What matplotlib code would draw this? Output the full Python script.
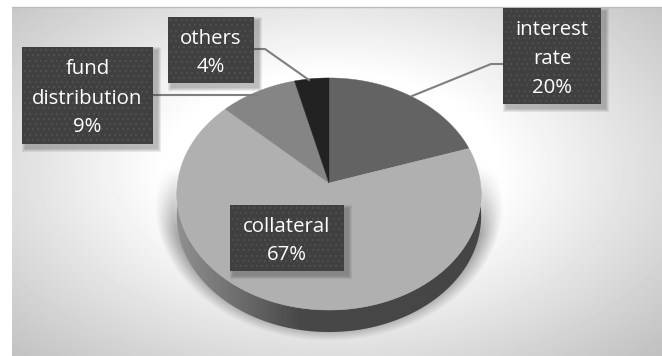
import numpy as np
import matplotlib
matplotlib.use('Agg')
import matplotlib.pyplot as plt
from matplotlib.patches import Polygon, Rectangle

categories = ['interest\nrate', 'collateral', 'fund\ndistribution', 'others']
shares = [20, 67, 9, 4]
slice_colors = ['#636363', '#b0b0b0', '#858585', '#222222']

# label boxes: left, top, right, bottom in pixels
label_boxes = [(503, 8, 601, 104), (230, 205, 344, 271), (22, 47, 153, 144), (168, 17, 254, 83)]
leaders = [
    ([503, 491, 412], [64, 64, 96]),
    ([], []),
    ([153, 257], [95, 95]),
    ([254, 265, 309], [49, 49, 80]),
]

W, H = 662, 356
CX, CY = 329, 183
RX, RY = 151.5, 115
TILT = -0.0948
DEPTH = 22

plt.rcParams['font.family'] = ['Open Sans', 'DejaVu Sans']

fig = plt.figure(figsize=(W / 100, H / 100), dpi=100)
ax = fig.add_axes([0, 0, 1, 1])
ax.set_xlim(0, W)
ax.set_ylim(H, 0)
ax.axis('off')


def project(angle):
    # angle in radians, clockwise from 12 o'clock, onto the tilted disc
    u, v = np.sin(angle), np.cos(angle)
    d = 1 - TILT * v
    return CX + RX * u / d, CY - RY * v / d


# background: radial gradient plus the soft shadow under the disc
xx, yy = np.meshgrid(np.arange(12, W) + 0.5, np.arange(7, H) + 0.5)
r = np.hypot((xx - 331) / 331, (yy - 170) / 190)
bg = 1.0 - 0.25 * np.clip((r - 0.5) / 0.9, 0, 1)
dist = np.hypot((xx - CX) / 174, (yy - 205) / 136)
shadow = np.clip((1 - dist) / 0.1, 0, 1)
shadow *= np.clip((yy - 165) / 70, 0, 1)
shadow *= yy < 340
bg = bg * (1 - 0.33 * shadow)
ax.imshow(bg, cmap='gray', vmin=0, vmax=1, extent=(12, W, H, 7), aspect='auto',
          interpolation='bilinear', zorder=0)
ax.plot([12, W], [7, 7], color='#bdbdbd', lw=1, zorder=1)

# side wall, lighter towards the left
low = np.linspace(np.pi / 2, 3 * np.pi / 2, 200)
sx, sy = project(low)
wall_xy = np.column_stack([np.r_[sx, sx[::-1]], np.r_[sy, sy[::-1] + DEPTH]])
wall = Polygon(wall_xy, closed=True, fc='none', ec='none', zorder=2)
ax.add_patch(wall)
grad = np.interp(np.arange(170, 490), [178, 250, 300, 490], [0.56, 0.40, 0.28, 0.27])[None, :]
im = ax.imshow(grad, cmap='gray', vmin=0, vmax=1, extent=(170, 490, 340, 190), aspect='auto', zorder=2)
im.set_clip_path(wall)
ax.set_xlim(0, W)
ax.set_ylim(H, 0)

# top face
edges = np.cumsum([0] + shares) / sum(shares) * 2 * np.pi
for i in range(len(shares)):
    t = np.linspace(edges[i], edges[i + 1], 120)
    px, py = project(t)
    ax.add_patch(Polygon(np.column_stack([np.r_[CX, px], np.r_[CY, py]]), closed=True,
                         fc=slice_colors[i], ec=slice_colors[i], lw=0.3, zorder=3))

for lx, ly in leaders:
    if lx:
        ax.plot(lx, ly, color='#7f7f7f', lw=1.5, zorder=4, solid_joinstyle='miter')

# dark dotted label boxes with a drop shadow
for name, share, (x0, y0, x1, y1) in zip(categories, shares, label_boxes):
    for g in range(4, 0, -1):
        ax.add_patch(Rectangle((x0 + 4 - g, y0 + 4 - g), x1 - x0 + 2 * g, y1 - y0 + 2 * g,
                               fc='#303030', ec='none', alpha=0.09, zorder=5))
    ax.add_patch(Rectangle((x0, y0), x1 - x0, y1 - y0, fc='#404040', ec='none', zorder=6))
    dx, dy = [], []
    for j, y in enumerate(np.arange(y0 + 3, y1 - 1, 5.3)):
        xs = np.arange(x0 + 3 + (j % 2) * 2.65, x1 - 1, 5.3)
        dx.extend(xs)
        dy.extend([y] * len(xs))
    ax.scatter(dx, dy, s=1.6, marker='s', color='#4e4e4e', linewidths=0, zorder=7)
    ax.text((x0 + x1) / 2, (y0 + y1) / 2 + 3, f'{name}\n{share}%', color='white', fontsize=14.7,
            ha='center', va='center', linespacing=1.6, zorder=8)

fig.savefig('out.png', dpi=100, facecolor='white')
